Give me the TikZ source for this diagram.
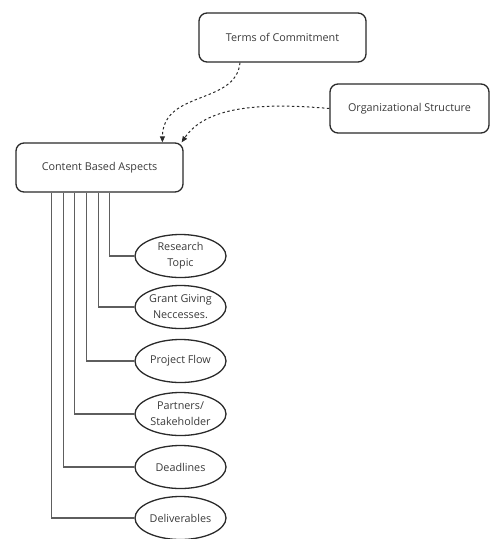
\documentclass[tikz,border=0pt]{standalone}
\usepackage{fontspec}
\setmainfont{Open Sans}
\usetikzlibrary{arrows.meta, positioning, calc, shapes.geometric}
\definecolor{boxline}{HTML}{2A2A2A}
\definecolor{wire}{HTML}{5E5E5E}
\definecolor{label}{HTML}{3A3A3A}

\begin{document}
\begin{tikzpicture}[x=1pt, y=-1pt, >={Triangle[length=6pt, width=5pt]},
  aspectbox/.style={draw=boxline, line width=1.3pt, rounded corners=8pt,
    minimum width=167pt, minimum height=49pt, inner sep=0pt,
    text=label, font=\fontsize{10.8}{16}\selectfont},
  leaf/.style={ellipse, draw=boxline, line width=1.3pt, minimum width=91pt,
    minimum height=43pt, inner sep=0pt, align=center,
    text=label, font=\fontsize{10.8}{16}\selectfont},
  wire/.style={draw=wire, line width=1.2pt},
  link/.style={draw=boxline, line width=1pt, dash pattern=on 2.5pt off 2.5pt, ->}]

% Canvas
\useasboundingbox (0,0) rectangle (490,539);

% Upper boxes
\node[aspectbox] (terms) at (282.5,37.5) {Terms of Commitment};
\node[aspectbox, minimum width=159pt] (org) at (409.5,108.5) {Organizational Structure};
\node[aspectbox] (content) at (99.5,167.5) {Content Based Aspects};

% Dashed links into the content box
\draw[link] (terms.south -| 240,0) .. controls (236,105) and (163,90) .. ($(content.north west)+(147,0)$);
\draw[link] (org.west) .. controls (255,102) and (205,108) .. ($(content.north east)+(-2,0)$);

% Leaf ellipses
\node[leaf] (topic) at (180.5,256) {Research\\Topic};
\node[leaf] (grant) at (180.5,307) {Grant Giving\\Neccesses.};
\node[leaf] (flow) at (180.5,361) {Project Flow};
\node[leaf] (partners) at (180.5,414) {Partners/\\Stakeholder};
\node[leaf] (deadlines) at (180.5,467) {Deadlines};
\node[leaf] (deliverables) at (180.5,518) {Deliverables};

% Elbow wires from the content box
\foreach \leafname/\dx in {topic/94, grant/83, flow/71, partners/59, deadlines/48, deliverables/36}
  \draw[wire] ($(content.south west)+(\dx,0)$) |- (\leafname.west);

\end{tikzpicture}
\end{document}
